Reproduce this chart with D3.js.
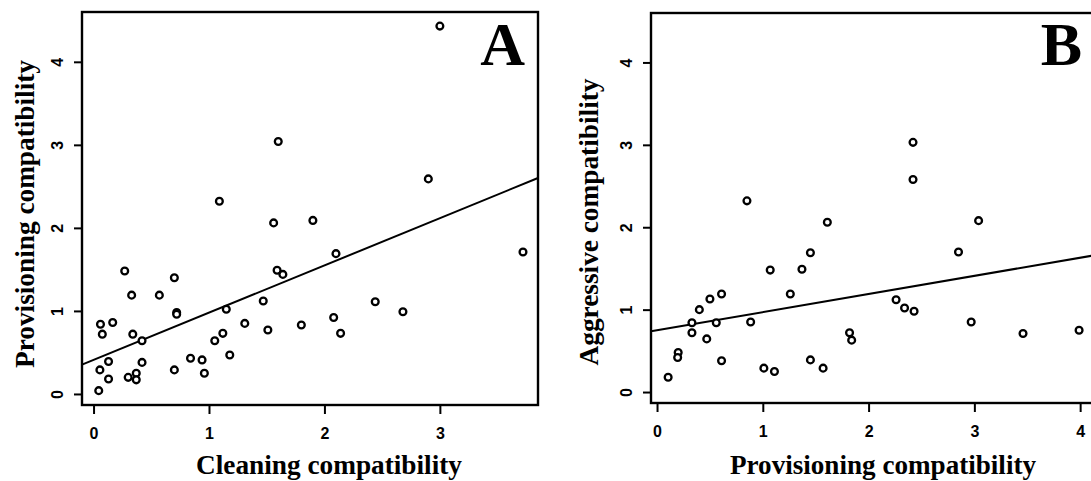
<!DOCTYPE html>
<html>
<head>
<meta charset="utf-8">
<script src="https://cdn.jsdelivr.net/npm/d3@7"></script>
<style>
  body { margin: 0; background: #fff; }
  svg { display: block; }
</style>
</head>
<body>
<svg id="chart" width="1091" height="481"></svg>
<script>
// Panel A: cleaning vs provisioning compatibility
var cleaningA = [0.045, 0.06, 0.076, 0.055, 0.13, 0.13, 0.166, 0.27, 0.33, 0.34, 0.30, 0.37, 0.37, 0.42, 0.42,
    0.57, 0.70, 0.72, 0.72, 0.70, 0.84, 0.94, 0.96, 1.05, 1.09, 1.12, 1.15, 1.18, 1.31, 1.47, 1.51, 1.56,
    1.60, 1.59, 1.64, 1.80, 1.90, 2.08, 2.10, 2.14, 2.44, 2.68, 2.90, 3.00, 3.72];
var provisioningA = [0.04, 0.84, 0.72, 0.29, 0.39, 0.18, 0.86, 1.48, 1.19, 0.72, 0.20, 0.25, 0.17, 0.64, 0.38,
    1.19, 1.40, 0.98, 0.96, 0.29, 0.43, 0.41, 0.25, 0.64, 2.32, 0.73, 1.02, 0.47, 0.85, 1.12, 0.77, 2.06,
    3.04, 1.49, 1.44, 0.83, 2.09, 0.92, 1.69, 0.73, 1.11, 0.99, 2.59, 4.43, 1.71];
var fitA = [0.41, 0.569]; // intercept, slope

// Panel B: provisioning vs aggressive compatibility
var provisioningB = [0.105, 0.20, 0.195, 0.33, 0.33, 0.40, 0.47, 0.50, 0.56, 0.61, 0.61, 0.85, 0.885, 1.01,
    1.07, 1.11, 1.26, 1.37, 1.45, 1.45, 1.57, 1.61, 1.82, 1.84, 2.26, 2.34, 2.43, 2.42, 2.42, 2.85, 2.97,
    3.04, 3.46, 3.99];
var aggressiveB = [0.18, 0.48, 0.42, 0.84, 0.72, 1.00, 0.645, 1.13, 0.84, 1.19, 0.38, 2.32, 0.85, 0.29,
    1.48, 0.25, 1.19, 1.49, 1.69, 0.39, 0.29, 2.06, 0.72, 0.63, 1.12, 1.02, 0.98, 3.03, 2.58, 1.70, 0.85,
    2.08, 0.71, 0.75];
var fitB = [0.75, 0.22];

var tickValues = [0, 1, 2, 3, 4];
var tickLabels = ["0", "1", "2", "3", "4"];

var svg = d3.select("#chart");

// tick label look (bold Helvetica-like)
function styleTicks(a) {
    a.attr("font-size", null).attr("font-family", null);
    a.select(".domain").remove();
    a.selectAll("line").attr("stroke", "#000").attr("stroke-width", 2);
    a.selectAll("text").attr("fill", "#000")
        .style("font-family", "'Liberation Sans', Arial, sans-serif")
        .style("font-weight", "bold").style("font-size", "16px");
}

// One panel = box, axes, points, regression line, titles and letter
function drawPanel(p) {
    var x = d3.scaleLinear().domain(p.xDomain).range([p.left, p.right]);
    var y = d3.scaleLinear().domain([-0.133, 4.60]).range([p.bottom, p.top]);
    var g = svg.append("g");

    // x axis: only ticks inside the plot range
    g.append("g")
        .attr("transform", "translate(0," + p.bottom + ")")
        .call(d3.axisBottom(x)
            .tickValues(tickValues.filter(function(v) { return v <= p.xDomain[1] && x(v) < 1091; }))
            .tickFormat(function(d) { return tickLabels[d]; })
            .tickSize(9).tickSizeOuter(0).tickPadding(14))
        .call(styleTicks);

    // y axis, labels turned like in R
    g.append("g")
        .attr("transform", "translate(" + p.left + ",0)")
        .call(d3.axisLeft(y).tickValues(tickValues)
            .tickFormat(function(d) { return tickLabels[d]; })
            .tickSize(8).tickSizeOuter(0))
        .call(styleTicks)
        .call(function(a) {
            a.selectAll("text")
                .attr("x", null).attr("dy", null)
                .attr("text-anchor", "middle")
                .attr("transform", "translate(-25,0) rotate(-90)")
                .attr("dominant-baseline", "central");
        });

    // regression line
    g.append("line")
        .attr("x1", x(p.xDomain[0])).attr("y1", y(p.fit[0] + p.fit[1] * p.xDomain[0]))
        .attr("x2", x(p.xDomain[1])).attr("y2", y(p.fit[0] + p.fit[1] * p.xDomain[1]))
        .attr("stroke", "#000").attr("stroke-width", 2);

    // points
    g.selectAll("circle")
        .data(p.xs)
        .enter().append("circle")
            .attr("cx", function(d) { return x(d); })
            .attr("cy", function(d, i) { return y(p.ys[i]); })
            .attr("r", 3.4)
            .attr("fill", "#fff")
            .attr("stroke", "#000")
            .attr("stroke-width", 2.3);

    // frame
    g.append("rect")
        .attr("x", p.left).attr("y", p.top)
        .attr("width", p.right - p.left).attr("height", p.bottom - p.top)
        .attr("fill", "none").attr("stroke", "#000").attr("stroke-width", 2.4);

    // panel letter
    g.append("text")
        .attr("x", p.letterX).attr("y", 65)
        .attr("text-anchor", "end")
        .style("font-family", "'Liberation Serif', 'Times New Roman', serif")
        .style("font-weight", "bold").style("font-size", "62px")
        .text(p.letter);

    // axis titles
    g.append("text")
        .attr("x", p.xTitleX).attr("y", 474)
        .attr("text-anchor", "middle")
        .attr("textLength", p.xTitleLen).attr("lengthAdjust", "spacingAndGlyphs")
        .style("font-family", "'Liberation Serif', 'Times New Roman', serif")
        .style("font-weight", "bold").style("font-size", "27px")
        .text(p.xTitle);

    g.append("text")
        .attr("transform", "translate(" + p.yTitleX + "," + p.yTitleY + ") rotate(-90)")
        .attr("text-anchor", "middle")
        .attr("textLength", p.yTitleLen).attr("lengthAdjust", "spacingAndGlyphs")
        .style("font-family", "'Liberation Serif', 'Times New Roman', serif")
        .style("font-weight", "bold").style("font-size", "27px")
        .text(p.yTitle);
}

drawPanel({
    xs: cleaningA, ys: provisioningA, fit: fitA,
    xDomain: [-0.10, 3.85], left: 82, right: 538, top: 12, bottom: 405,
    letter: "A", letterX: 525,
    xTitle: "Cleaning compatibility", xTitleX: 329, xTitleLen: 266,
    yTitle: "Provisioning compatibility", yTitleX: 34, yTitleY: 214, yTitleLen: 308
});

drawPanel({
    xs: provisioningB, ys: aggressiveB, fit: fitB,
    xDomain: [-0.057, 4.32], left: 651, right: 1114, top: 13, bottom: 403,
    letter: "B", letterX: 1082,
    xTitle: "Provisioning compatibility", xTitleX: 883, xTitleLen: 306,
    yTitle: "Aggressive compatibility", yTitleX: 598, yTitleY: 222, yTitleLen: 287
});
</script>
</body>
</html>
